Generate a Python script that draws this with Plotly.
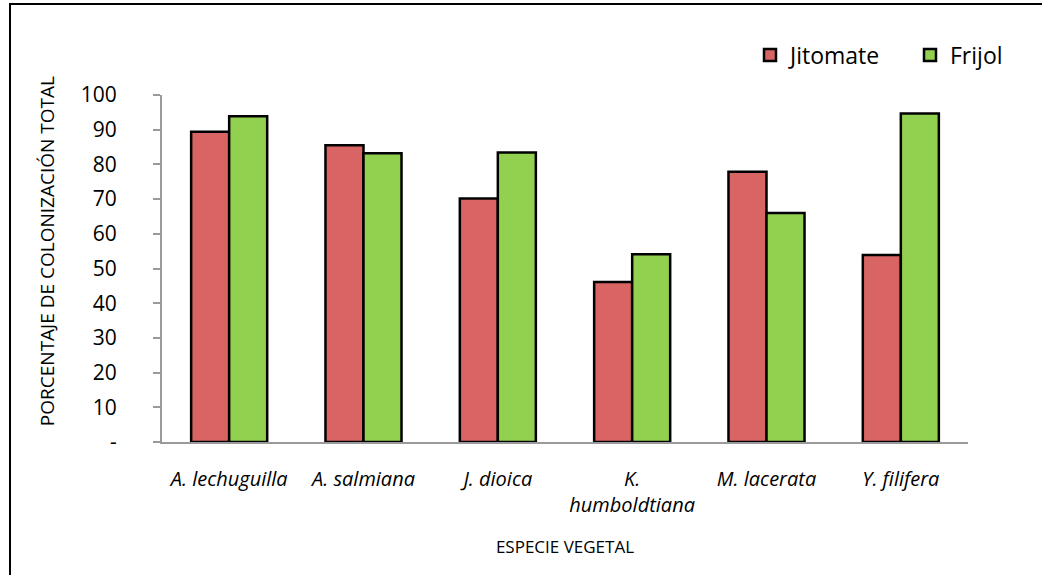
import plotly.graph_objects as go

categories = ["A. lechuguilla", "A. salmiana", "J. dioica", "K.<br>humboldtiana", "M. lacerata", "Y. filifera"]
jitomate = [89.4, 85.5, 70.2, 46.1, 77.9, 53.9]
frijol = [93.9, 83.2, 83.4, 54.1, 66.0, 94.7]
ytick_vals = [0, 10, 20, 30, 40, 50, 60, 70, 80, 90, 100]
ytick_text = ["-", "10", "20", "30", "40", "50", "60", "70", "80", "90", "100"]

W, H = 1042, 575
ml, mt = 162, 95
plot_right = 968
plot_bottom = 441.7
mr, mb = W - plot_right, H - plot_bottom
pw, ph = W - ml - mr, H - mt - mb

def px_x(x):
    return (x - ml) / pw

def px_y(y):
    return (plot_bottom - y) / ph

FONT = "Open Sans, sans-serif"

fig = go.Figure()
fig.add_trace(go.Bar(name="Jitomate", x=categories, y=jitomate,
                     marker=dict(color="#D96464", line=dict(color="black", width=2.5))))
fig.add_trace(go.Bar(name="Frijol", x=categories, y=frijol,
                     marker=dict(color="#92D050", line=dict(color="black", width=2.5))))

fig.update_layout(
    width=W, height=H,
    margin=dict(l=ml, r=mr, t=mt, b=mb, autoexpand=False),
    paper_bgcolor="white", plot_bgcolor="white",
    barmode="group", bargap=0.434, bargroupgap=0,
    font=dict(family=FONT, color="black", size=19),
    showlegend=True,
    legend=dict(orientation="h", x=px_x(750), xanchor="left", y=px_y(55), yanchor="middle",
                font=dict(size=23, family=FONT), itemwidth=30, traceorder="normal",
                entrywidth=115, entrywidthmode="pixels",
                bgcolor="rgba(0,0,0,0)"),
    xaxis=dict(showline=True, linecolor="#9a9a9a", linewidth=2, ticks="", automargin=False,
               tickfont=dict(size=20, style="italic", family=FONT), ticklabelstandoff=18,
               title=dict(text="ESPECIE VEGETAL", font=dict(size=17, family=FONT), standoff=24)),
    yaxis=dict(range=[0, 100], tickvals=ytick_vals, ticktext=ytick_text, automargin=False,
               showline=True, linecolor="#9a9a9a", linewidth=2, showgrid=False,
               ticks="outside", ticklen=7, tickcolor="#9a9a9a", tickwidth=2,
               ticklabelstandoff=32, zeroline=False, tickfont=dict(size=21, family=FONT)),
)

fig.add_annotation(text="PORCENTAJE DE COLONIZACIÓN TOTAL", textangle=-90,
                   xref="paper", yref="paper",
                   x=px_x(47), y=px_y(251), xanchor="center", yanchor="middle",
                   showarrow=False, font=dict(size=19, family=FONT))

fig.add_shape(type="rect", xref="paper", yref="paper",
              x0=px_x(10), x1=px_x(1080),
              y0=px_y(600), y1=px_y(4),
              line=dict(color="black", width=2), fillcolor="rgba(0,0,0,0)", layer="below")

fig.write_html("out.html", config={"displayModeBar": False},
               post_script="document.body.style.margin='0';")
